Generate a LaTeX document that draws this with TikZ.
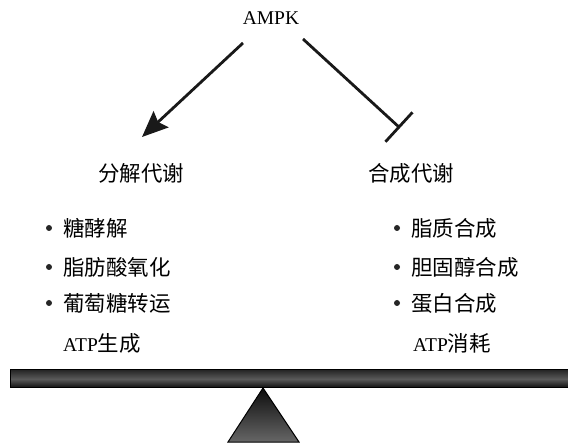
\documentclass[tikz,border=0pt]{standalone}
\usepackage{fontspec}
\setmainfont{Liberation Serif}
\newfontfamily\cjk{Noto Sans CJK SC}[Scale=1.1]
\usetikzlibrary{arrows.meta,shapes.geometric}
\begin{document}
\begin{tikzpicture}[x=1pt,y=-1pt,
  lbl/.style={inner sep=0pt,font=\fontsize{19.5}{22}\selectfont},
  item/.style={lbl,anchor=west},
  dot/.style={circle,fill=black!85,inner sep=0pt,minimum size=6pt},
  conn/.style={line width=2.8pt,black!90}]
\useasboundingbox (0,0) rectangle (568,446);
\node[lbl] (ampk) at (271,18) {AMPK};
\coordinate (a1) at (243,43);
\coordinate (a2) at (142,137);
\coordinate (b1) at (303,39);
\coordinate (b2) at (400,128);
\draw[conn,-{Stealth[length=26pt,width=22pt,inset=4pt]}] (a1) -- (a2);
\draw[conn,-{Bar[width=40pt]}] (b1) -- (b2);
\node[lbl] (cat) at (141,173) {\cjk 分解代谢};
\node[lbl] (ana) at (411,173) {\cjk 合成代谢};
\node[dot] (d1) at (49,228) {};
\node[dot] (d2) at (49,267) {};
\node[dot] (d3) at (49,303) {};
\node[item] (t1) at (63,228) {\cjk 糖酵解};
\node[item] (t2) at (63,267) {\cjk 脂肪酸氧化};
\node[item] (t3) at (63,303) {\cjk 葡萄糖转运};
\node[item] (atp1) at (63,343) {ATP{\cjk 生成}};
\node[dot] (e1) at (397,228) {};
\node[dot] (e2) at (397,267) {};
\node[dot] (e3) at (397,303) {};
\node[item] (u1) at (411,228) {\cjk 脂质合成};
\node[item] (u2) at (411,267) {\cjk 胆固醇合成};
\node[item] (u3) at (411,303) {\cjk 蛋白合成};
\node[item] (atp2) at (413,343) {ATP{\cjk 消耗}};
% beam
\shade[top color=black!85,bottom color=black!95,middle color=black!65,draw=black,line width=1pt]
  (10,370) rectangle (570,388);
% fulcrum
\shade[top color=black!95,bottom color=black!60,draw=black,line width=1pt]
  (263,388) -- (299,442) -- (228,442) -- cycle;
\end{tikzpicture}
\end{document}
